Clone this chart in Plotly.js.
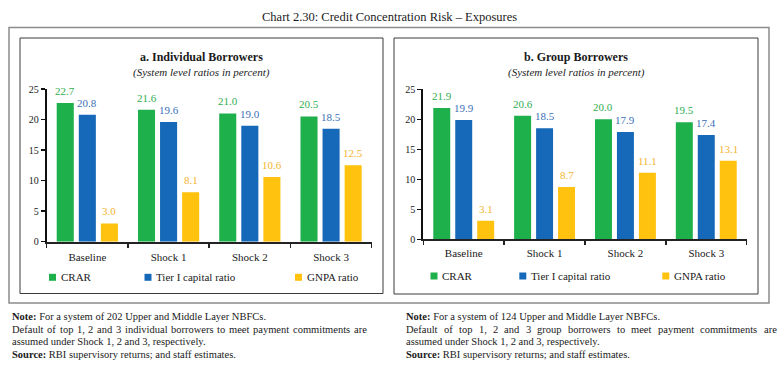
<!DOCTYPE html>
<html>
<head>
<meta charset="utf-8">
<script src="https://cdn.plot.ly/plotly-3.0.1.min.js"></script>
<style>
  html, body { margin: 0; padding: 0; background: #fff; }
  #chart { width: 779px; height: 378px; }
</style>
</head>
<body>
<div id="chart"></div>
<script>
// ---------- DATA ----------
const categories = ['Baseline', 'Shock 1', 'Shock 2', 'Shock 3'];
const seriesNames = ['CRAR', 'Tier I capital ratio', 'GNPA ratio'];
const indivCRAR  = [22.7, 21.6, 21.0, 20.5];
const indivTier1 = [20.8, 19.6, 19.0, 18.5];
const indivGNPA  = [3.0, 8.1, 10.6, 12.5];
const groupCRAR  = [21.9, 20.6, 20.0, 19.5];
const groupTier1 = [19.9, 18.5, 17.9, 17.4];
const groupGNPA  = [3.1, 8.7, 11.1, 13.1];
const yTicks = [0, 5, 10, 15, 20, 25];

const mainTitle = 'Chart 2.30: Credit Concentration Risk – Exposures';
const panelTitles = ['a. Individual Borrowers', 'b. Group Borrowers'];
const subTitle = '(System level ratios in percent)';
const notesLeft = [
  '<b>Note:</b> For a system of 202 Upper and Middle Layer NBFCs.',
  'Default of top 1, 2 and 3 individual borrowers to meet payment commitments are',
  'assumed under Shock 1, 2 and 3, respectively.',
  '<b>Source:</b> RBI supervisory returns; and staff estimates.'
];
const notesRight = [
  '<b>Note:</b> For a system of 124 Upper and Middle Layer NBFCs.',
  'Default of top 1, 2 and 3 group borrowers to meet payment commitments are',
  'assumed under Shock 1, 2 and 3, respectively.',
  '<b>Source:</b> RBI supervisory returns; and staff estimates.'
];

// ---------- STYLE ----------
const W = 779, H = 378;
const FONT = '"Liberation Serif", "Times New Roman", serif';
const barColors = ['#1eb04b', '#1669b8', '#ffc20e'];
const labelColors = ['#2fae50', '#3b6fb8', '#f3b42e'];
const textColor = '#1a1a1a';
const BARGAP = 0.185, GROUPGAP = 0.227;
function px(x) { return x / W; }
function py(y) { return 1 - y / H; }

const xDomA = [46.7, 371.7], xDomB = [423.3, 746.7];

// ---------- TRACES ----------
function bars(values, idx, xa, ya) {
  return {
    type: 'bar', x: categories, y: values, name: seriesNames[idx],
    xaxis: xa, yaxis: ya, showlegend: false,
    marker: { color: barColors[idx], line: { width: 0 } },
    hoverinfo: 'x+y+name'
  };
}
const panelA = [indivCRAR, indivTier1, indivGNPA];
const panelB = [groupCRAR, groupTier1, groupGNPA];
const data = [];
panelA.forEach((v, i) => data.push(bars(v, i, 'x', 'y')));
panelB.forEach((v, i) => data.push(bars(v, i, 'x2', 'y2')));

// ---------- AXES ----------
function xAxis(d, anchor, standoff) {
  return {
    domain: d, anchor: anchor, type: 'category', tickson: 'boundaries',
    ticks: 'outside', ticklen: 4, tickwidth: 1.5, tickcolor: '#222',
    showline: true, linecolor: '#222', linewidth: 2,
    showgrid: false, zeroline: false, fixedrange: true,
    ticklabelstandoff: standoff,
    tickfont: { family: FONT, size: 11, color: textColor }
  };
}
function yAxis(d, anchor) {
  return {
    domain: d, anchor: anchor, range: [0, 25], tickvals: yTicks,
    ticks: 'outside', ticklen: 4, tickwidth: 1.5, tickcolor: '#111',
    showline: true, linecolor: '#111', linewidth: 2,
    showgrid: false, zeroline: false, fixedrange: true,
    tickfont: { family: FONT, size: 10, color: textColor }
  };
}

// ---------- SHAPES ----------
function rect(x0, y0, x1, y1, color, w) {
  return { type: 'rect', xref: 'paper', yref: 'paper', x0: px(x0), x1: px(x1), y0: py(y1), y1: py(y0),
           line: { color: color, width: w }, fillcolor: 'rgba(0,0,0,0)', layer: 'below' };
}
const shapes = [
  rect(9, 27.5, 769, 303, '#8c8c8c', 1.5),
  rect(20, 38, 383, 293.5, '#3a3a3a', 1),
  rect(394, 38, 758, 294, '#3a3a3a', 1)
];

// ---------- ANNOTATIONS ----------
const ann = [];
function txt(text, x, y, size, opts) {
  ann.push(Object.assign({
    xref: 'paper', yref: 'paper', x: px(x), y: py(y), text: text, showarrow: false,
    xanchor: 'center', yanchor: 'middle', borderpad: 0,
    font: { family: FONT, size: size, color: textColor }
  }, opts || {}));
}

// value labels above bars (data coordinates, shifted to each bar's slot)
function valueLabels(series, xa, ya, dom) {
  const catW = (dom[1] - dom[0]) / categories.length;
  const slot = catW * (1 - BARGAP) / series.length;
  series.forEach((vals, i) => {
    vals.forEach((v, j) => {
      ann.push({
        xref: xa, yref: ya, x: categories[j], y: v, text: v.toFixed(1),
        showarrow: false, xanchor: 'center', yanchor: 'bottom', borderpad: 0,
        xshift: (i - (series.length - 1) / 2) * slot, yshift: 5,
        font: { family: FONT, size: 11, color: labelColors[i] }
      });
    });
  });
}
valueLabels(panelA, 'x', 'y', xDomA);
valueLabels(panelB, 'x2', 'y2', xDomB);

txt(mainTitle, 389.5, 17, 12.5);
txt('<b>' + panelTitles[0] + '</b>', 201.5, 57, 12);
txt('<b>' + panelTitles[1] + '</b>', 576, 57, 12);
txt('<i>' + subTitle + '</i>', 201.5, 72, 11);
txt('<i>' + subTitle + '</i>', 576, 72, 11);

// legends (custom)
function legend(xs, yc) {
  for (let i = 0; i < 3; i++) {
    shapes.push({ type: 'rect', xref: 'paper', yref: 'paper',
      x0: px(xs[i]), x1: px(xs[i] + 7), y0: py(yc + 3.5), y1: py(yc - 3.5),
      line: { width: 0 }, fillcolor: barColors[i] });
    txt(seriesNames[i], xs[i] + 10.5, yc, 11, { xanchor: 'left' });
  }
}
legend([49, 144.5, 295], 277.3);
legend([430.5, 519.3, 662.3], 276);

// notes
const ctx = document.createElement('canvas').getContext('2d');
function justified(text, x0, x1, y, size) {
  ctx.font = size + 'px ' + FONT;
  const words = text.split(' ');
  const widths = words.map(w => ctx.measureText(w).width);
  const total = widths.reduce((a, b) => a + b, 0);
  const gap = (x1 - x0 - total) / (words.length - 1);
  let x = x0;
  words.forEach((w, i) => {
    txt(w, x, y, size, { xanchor: 'left' });
    x += widths[i] + gap;
  });
}
function notes(lines, x0, x1) {
  const ys = [316.5, 329.2, 341.6, 354.2];
  txt(lines[0], x0, ys[0], 10.5, { xanchor: 'left' });
  justified(lines[1], x0, x1, ys[1], 10.5);
  txt(lines[2], x0, ys[2], 10.5, { xanchor: 'left' });
  txt(lines[3], x0, ys[3], 10.5, { xanchor: 'left' });
}
notes(notesLeft, 11, 365.7);
notes(notesRight, 405, 775.7);

const layout = {
  width: W, height: H,
  margin: { l: 0, r: 0, t: 0, b: 0, pad: 0 },
  paper_bgcolor: '#ffffff', plot_bgcolor: 'rgba(0,0,0,0)',
  font: { family: FONT, color: textColor },
  barmode: 'group', bargap: BARGAP, bargroupgap: GROUPGAP,
  showlegend: false,
  xaxis: xAxis([px(xDomA[0]), px(xDomA[1])], 'y', 4),
  yaxis: yAxis([py(241.7), py(89)], 'x'),
  xaxis2: xAxis([px(xDomB[0]), px(xDomB[1])], 'y2', 2),
  yaxis2: yAxis([py(239.3), py(89.3)], 'x2'),
  shapes: shapes,
  annotations: ann
};

Plotly.newPlot('chart', data, layout, { displayModeBar: false, staticPlot: true });
</script>
</body>
</html>
